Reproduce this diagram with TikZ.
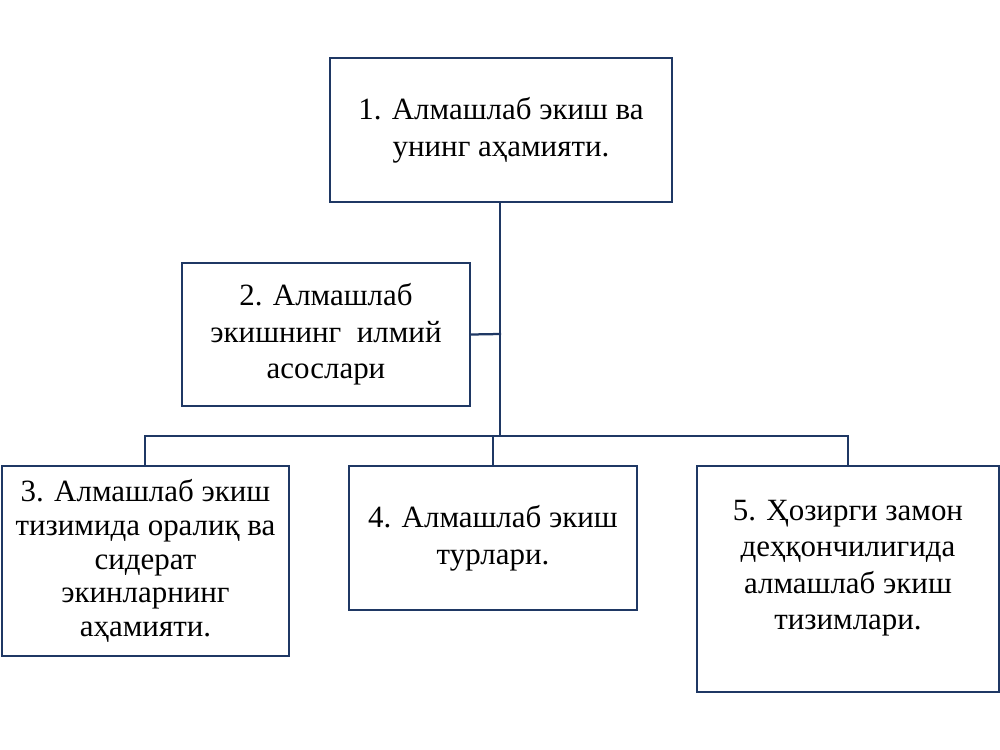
\documentclass[tikz,border=0pt]{standalone}
\usepackage{fontspec}
\setmainfont{Liberation Serif}
\definecolor{navy}{HTML}{1F3864}
\tikzset{
	topicbox/.style={draw=navy, line width=1.6pt, align=center, font=\fontsize{22}{26}\selectfont, inner sep=0pt},
	topictext/.style={align=center, font=\fontsize{22}{26}\selectfont, inner sep=0pt},
	link/.style={draw=navy, line width=1.6pt, line cap=rect}
}
\begin{document}
\begin{tikzpicture}[x=0.025cm, y=-0.025cm]
	\useasboundingbox (0,0) rectangle (1000,750);
	% Boxes
	\node[topicbox, minimum width=342*0.025cm, minimum height=144*0.025cm] (b1) at (501,130)
		{1. Алмашлаб экиш ва\\унинг аҳамияти.};
	\node[topicbox, minimum width=288*0.025cm, minimum height=143*0.025cm] (b2) at (326,334.5)
		{2. Алмашлаб\\экишнинг\ \ илмий\\асослари};
	\node[topicbox, minimum width=287*0.025cm, minimum height=190*0.025cm, font=\fontsize{22}{24}\selectfont] (b3) at (145.5,561)
		{3. Алмашлаб экиш\\тизимида оралиқ ва\\сидерат\\экинларнинг\\аҳамияти.};
	\node[topicbox, minimum width=288*0.025cm, minimum height=144*0.025cm] (b4) at (493,538)
		{4. Алмашлаб экиш\\турлари.};
	\node[topicbox, minimum width=302*0.025cm, minimum height=226*0.025cm] (b5) at (848,579) {};
	\node[topictext] (b5text) at (848,568)
		{5. Ҳозирги замон\\деҳқончилигида\\алмашлаб экиш\\тизимлари.};
	% Connectors
	\coordinate (hub) at (500,436);
	\coordinate (side) at (500,334);
	\coordinate (left) at (145,436);
	\coordinate (right) at (848,436);
	\coordinate (mid) at (493,436);
	\draw[link] (b1.south -| hub) -- (hub);
	\draw[link] (b2.east) -- (side);
	\draw[link] (left) -- (right);
	\draw[link] (left) -- (b3.north -| left);
	\draw[link] (mid) -- (b4.north -| mid);
	\draw[link] (right) -- (b5.north -| right);
\end{tikzpicture}
\end{document}
